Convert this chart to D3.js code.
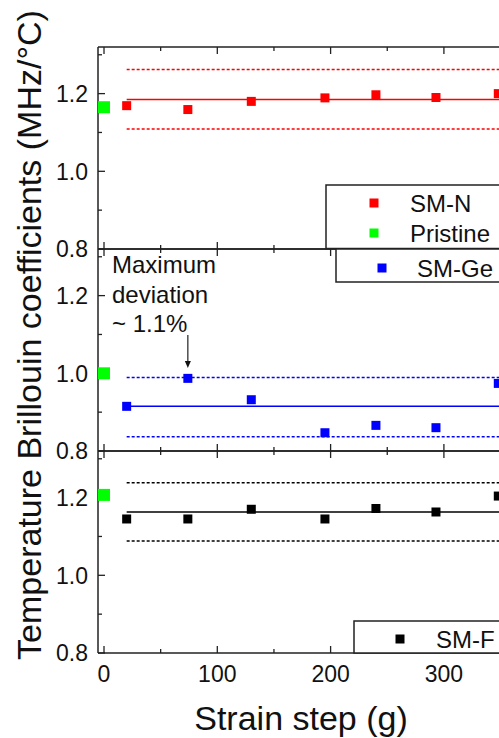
<!DOCTYPE html>
<html lang="en">
<head>
<meta charset="UTF-8">
<title>Temperature Brillouin coefficients</title>
<script src="https://d3js.org/d3.v7.min.js"></script>
<style>
    body { margin: 0; padding: 0; background: #fff; overflow: hidden; }
    svg { display: block; font-family: "Liberation Sans", Arial, sans-serif; }
</style>
</head>
<body>
<div id="chart"></div>
<script>
// strain steps (g)
const strainSteps = [20, 74, 130, 195, 240, 293, 348];
const pristineX = 0;

// panel data
const smN = [1.169, 1.159, 1.180, 1.189, 1.197, 1.190, 1.200];
const smGe = [0.915, 0.987, 0.932, 0.847, 0.866, 0.860, 0.974];
const smF = [1.145, 1.145, 1.170, 1.145, 1.172, 1.163, 1.204];

const pristineVals = [1.165, 1.000, 1.207];
const fitMeans = [1.185, 0.915, 1.163];
const bandUpper = [1.262, 0.989, 1.238];
const bandLower = [1.109, 0.837, 1.088];

const seriesNames = ["SM-N", "SM-Ge", "SM-F"];
const seriesColors = ["#ff0000", "#0000ff", "#000000"];
const pristineColor = "#00ff00";

const yTicks = [0.8, 1.0, 1.2];
const yMinor = [0.9, 1.1, 1.3];
const xTicks = [0, 100, 200, 300];
const xMinor = [50, 150, 250, 350];

const W = 499, H = 738;
const left = 98;
const panelTops = [47, 249, 451];
const panelH = 202;

const svg = d3.select("#chart").append("svg")
    .attr("width", W).attr("height", H);

const x = d3.scaleLinear().domain([-5.3, 400]).range([left, left + 405.3 * 1.133]);
const xEnd = 560;

const allSeries = [smN, smGe, smF];

allSeries.forEach((vals, p) => {
    const top = panelTops[p];
    const y = d3.scaleLinear().domain([0.8, 1.32]).range([top + panelH, top]);
    const g = svg.append("g");

    // frame
    g.append("line").attr("x1", left).attr("x2", xEnd).attr("y1", top).attr("y2", top)
        .attr("stroke", "#222").attr("stroke-width", 1.5);
    g.append("line").attr("x1", left).attr("x2", xEnd).attr("y1", top + panelH).attr("y2", top + panelH)
        .attr("stroke", "#222").attr("stroke-width", 1.5);
    g.append("line").attr("x1", left).attr("x2", left).attr("y1", top).attr("y2", top + panelH)
        .attr("stroke", "#222").attr("stroke-width", 1.5);

    // y ticks (inward)
    yTicks.forEach(t => {
        g.append("line").attr("x1", left).attr("x2", left + 7).attr("y1", y(t)).attr("y2", y(t))
            .attr("stroke", "#222").attr("stroke-width", 1.3);
        g.append("text").attr("x", left - 10).attr("y", y(t)).attr("dy", "0.36em")
            .attr("text-anchor", "end").attr("font-size", 23).attr("fill", "#111")
            .text(t.toFixed(1));
    });
    yMinor.forEach(t => {
        g.append("line").attr("x1", left).attr("x2", left + 4).attr("y1", y(t)).attr("y2", y(t))
            .attr("stroke", "#222").attr("stroke-width", 1.3);
    });

    // x ticks top and bottom (inward)
    xTicks.forEach(t => {
        g.append("line").attr("x1", x(t)).attr("x2", x(t)).attr("y1", top).attr("y2", top + 7)
            .attr("stroke", "#222").attr("stroke-width", 1.3);
        g.append("line").attr("x1", x(t)).attr("x2", x(t)).attr("y1", top + panelH).attr("y2", top + panelH - 7)
            .attr("stroke", "#222").attr("stroke-width", 1.3);
    });
    xMinor.forEach(t => {
        g.append("line").attr("x1", x(t)).attr("x2", x(t)).attr("y1", top).attr("y2", top + 4)
            .attr("stroke", "#222").attr("stroke-width", 1.3);
        g.append("line").attr("x1", x(t)).attr("x2", x(t)).attr("y1", top + panelH).attr("y2", top + panelH - 4)
            .attr("stroke", "#222").attr("stroke-width", 1.3);
    });

    const col = seriesColors[p];
    // mean and band lines
    g.append("line").attr("x1", x(strainSteps[0])).attr("x2", xEnd)
        .attr("y1", y(fitMeans[p])).attr("y2", y(fitMeans[p]))
        .attr("stroke", col).attr("stroke-width", 1.5);
    [bandUpper[p], bandLower[p]].forEach(v => {
        g.append("line").attr("x1", x(strainSteps[0])).attr("x2", xEnd)
            .attr("y1", y(v)).attr("y2", y(v))
            .attr("stroke", col).attr("stroke-width", 1.5).attr("stroke-dasharray", "3,2");
    });

    // data squares
    const s = 9;
    g.selectAll("rect.pt").data(vals).enter().append("rect")
        .attr("class", "pt")
        .attr("x", (d, i) => x(strainSteps[i]) - s / 2)
        .attr("y", d => y(d) - s / 2)
        .attr("width", s).attr("height", s)
        .attr("fill", col);

    // pristine square
    const ps = 12;
    g.append("rect")
        .attr("x", x(pristineX) - ps / 2).attr("y", y(pristineVals[p]) - ps / 2)
        .attr("width", ps).attr("height", ps).attr("fill", pristineColor);

    // annotation in middle panel
    if (p === 1) {
        const ax = x(strainSteps[1]);
        const lines = ["Maximum", "deviation", "~ 1.1%"];
        lines.forEach((t, i) => {
            g.append("text").attr("x", 112).attr("y", 273 + i * 29.5)
                .attr("font-size", 24).attr("fill", "#111").text(t);
        });
        g.append("line").attr("x1", ax).attr("x2", ax).attr("y1", 335).attr("y2", 362)
            .attr("stroke", "#222").attr("stroke-width", 1.2);
        g.append("path")
            .attr("d", `M${ax - 3},${361} L${ax + 3},${361} L${ax},${368} Z`)
            .attr("fill", "#111");
    }
});

// legends
function legendBox(x0, y0, y1) {
    svg.append("rect").attr("x", x0).attr("y", y0)
        .attr("width", xEnd - x0).attr("height", y1 - y0)
        .attr("fill", "#fff").attr("stroke", "#222").attr("stroke-width", 1.5);
}
function legendItem(mx, my, tx, color, label) {
    svg.append("rect").attr("x", mx - 4.5).attr("y", my - 4.5)
        .attr("width", 9).attr("height", 9).attr("fill", color);
    svg.append("text").attr("x", tx).attr("y", my).attr("dy", "0.36em")
        .attr("font-size", 24).attr("fill", "#111").text(label);
}
legendBox(326, 185, 248.5);
legendItem(374, 203, 410, seriesColors[0], seriesNames[0]);
legendItem(374, 233, 410, pristineColor, "Pristine");
legendBox(336, 249, 282);
legendItem(382, 268, 417, seriesColors[1], seriesNames[1]);
legendBox(354, 621, 653);
legendItem(400, 639, 436, seriesColors[2], seriesNames[2]);

// x tick labels on bottom panel
xTicks.forEach(t => {
    svg.append("text").attr("x", x(t)).attr("y", 682)
        .attr("text-anchor", "middle").attr("font-size", 23).attr("fill", "#111")
        .text(t);
});

// axis titles
svg.append("text").attr("x", 301).attr("y", 730)
    .attr("text-anchor", "middle").attr("font-size", 34).attr("fill", "#111")
    .text("Strain step (g)");
svg.append("text")
    .attr("transform", "translate(41,335) rotate(-90)")
    .attr("text-anchor", "middle").attr("font-size", 34).attr("fill", "#111")
    .text("Temperature Brillouin coefficients (MHz/°C)");
</script>
</body>
</html>
